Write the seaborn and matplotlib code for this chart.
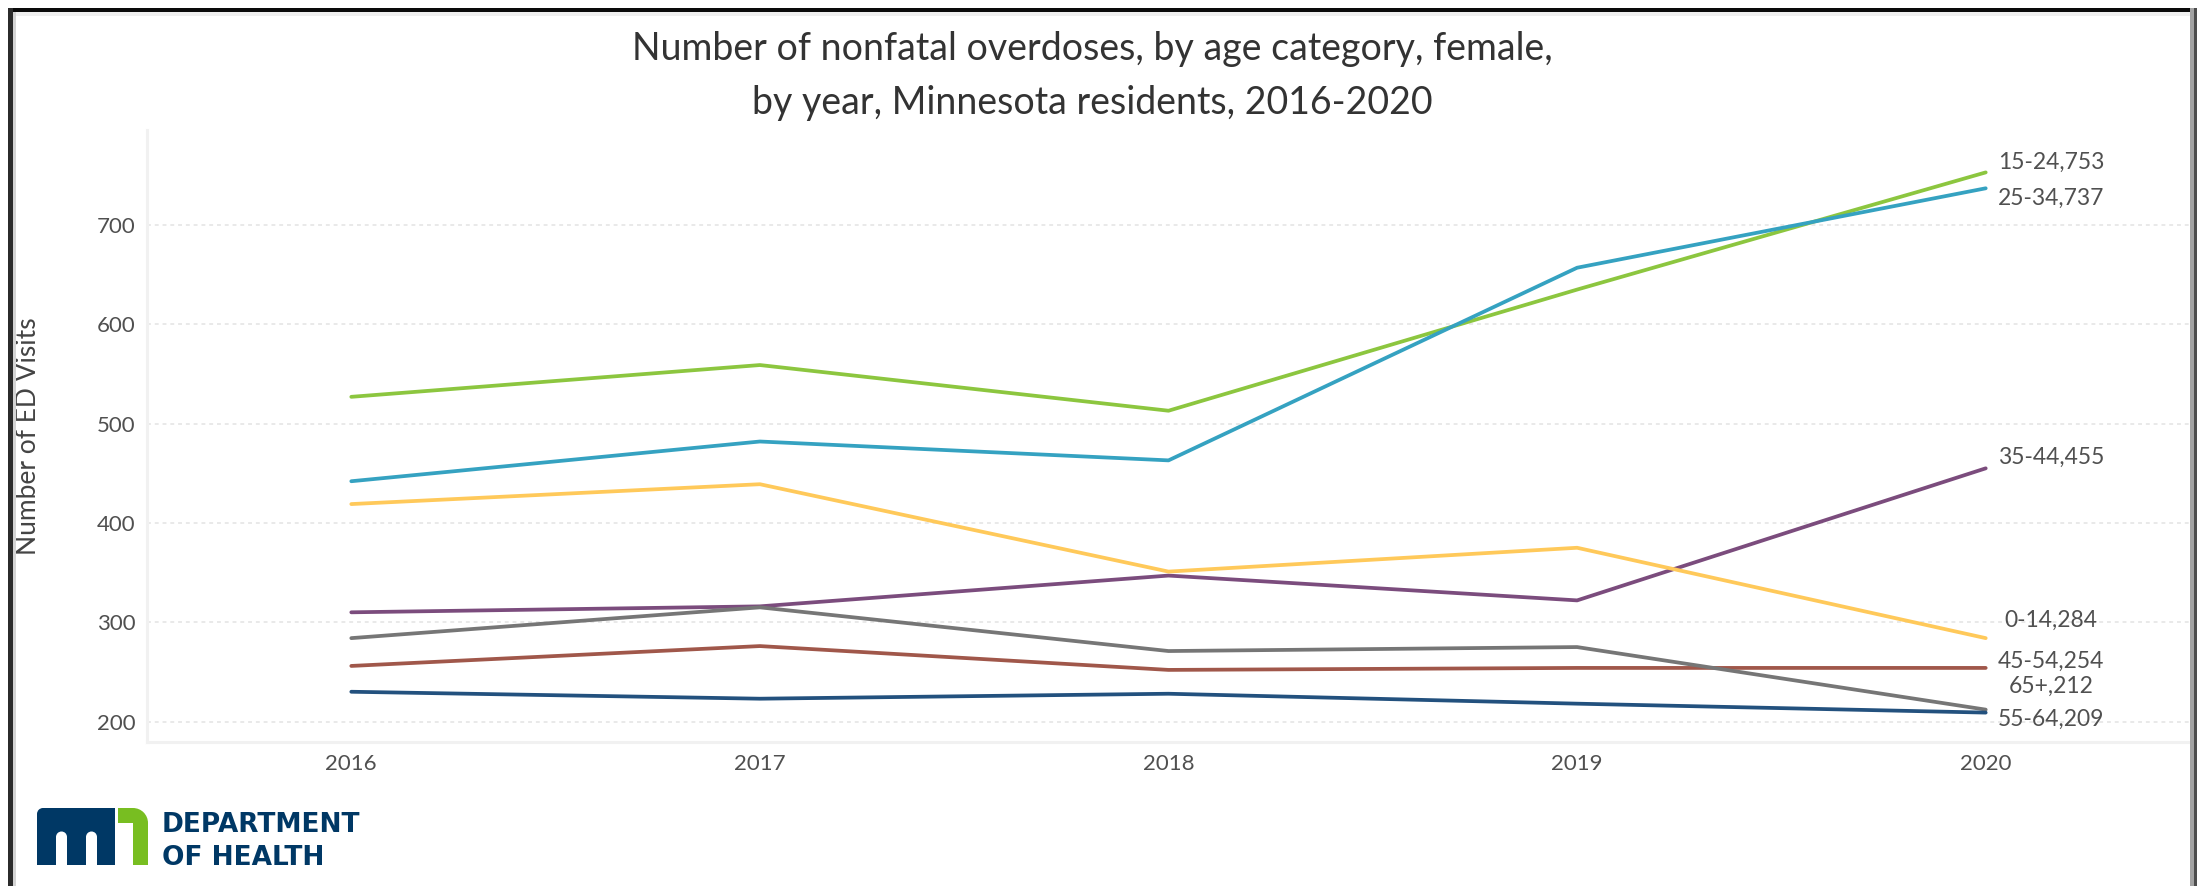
import matplotlib
matplotlib.use("Agg")
import matplotlib.pyplot as plt
from matplotlib.patches import Rectangle, Circle, Wedge
import numpy as np
import pandas as pd
import seaborn as sns

# ---- data -------------------------------------------------------------
years = [2016, 2017, 2018, 2019, 2020]
age_groups = ["15-24", "25-34", "35-44", "0-14", "45-54", "65+", "55-64"]
visits_15_24 = [527, 559, 513, 635, 753]
visits_25_34 = [442, 482, 463, 657, 737]
visits_35_44 = [310, 316, 347, 322, 455]
visits_0_14 = [419, 439, 351, 375, 284]
visits_45_54 = [256, 276, 252, 254, 254]
visits_65_plus = [284, 315, 271, 275, 212]
visits_55_64 = [230, 223, 228, 218, 209]
y_ticks = [200, 300, 400, 500, 600, 700]

series = {
    "15-24": visits_15_24,
    "25-34": visits_25_34,
    "35-44": visits_35_44,
    "0-14": visits_0_14,
    "45-54": visits_45_54,
    "65+": visits_65_plus,
    "55-64": visits_55_64,
}
df = pd.DataFrame(
    [(age, yr, v) for age in age_groups for yr, v in zip(years, series[age])],
    columns=["age", "year", "visits"],
)

# ---- styling ----------------------------------------------------------
palette = {
    "15-24": "#8cc63f",
    "25-34": "#35a2c1",
    "35-44": "#7b4c7d",
    "0-14": "#ffc95a",
    "45-54": "#a0574a",
    "65+": "#767676",
    "55-64": "#23517e",
}
# end-label vertical nudges (points) so the labels do not collide
label_nudge = {
    "15-24": 7, "25-34": -7, "35-44": 8, "0-14": 13,
    "45-54": 5, "65+": 17, "55-64": -4.5,
}

sns.set_theme(style="white")
plt.rcParams["font.family"] = ["Lato", "DejaVu Sans"]

W, H = 2200, 886
fig = plt.figure(figsize=(W / 100, H / 100), dpi=100)
fig.patch.set_facecolor("white")

ax_left, ax_right, ax_top, ax_bottom = 147, 2190, 130, 742
ax = fig.add_axes([ax_left / W, 1 - ax_bottom / H,
                   (ax_right - ax_left) / W, (ax_bottom - ax_top) / H])

sns.lineplot(data=df, x="year", y="visits", hue="age", hue_order=age_groups,
             palette=palette, linewidth=2.7, legend=False, ax=ax)

ax.set_xlim(2015.5, 2020.5)
ax.set_ylim(179.4, 795.7)
ax.set_xticks(years)
ax.set_xticklabels([str(y) for y in years])
ax.set_yticks(y_ticks)
ax.tick_params(axis="both", length=0, labelsize=16, colors="#505050")
ax.tick_params(axis="y", pad=8.5)
ax.tick_params(axis="x", pad=9)
ax.set_xlabel("")
ax.set_ylabel("Number of ED Visits", fontsize=19, color="#444444")
ax.yaxis.set_label_coords(-0.052, 0.5)

ax.grid(axis="y", color="#e9e9e9", linestyle=(0, (2, 2)), linewidth=1.4)
ax.grid(axis="x", visible=False)
for side in ("top", "right"):
    ax.spines[side].set_visible(False)
for side in ("left", "bottom"):
    ax.spines[side].set_color("#f1f1f1")
    ax.spines[side].set_linewidth(2.2)

# end-of-line labels "age,value"
for age in age_groups:
    v = series[age][-1]
    ax.annotate(f"{age},{v}", xy=(years[-1], v), xytext=(47, label_nudge[age]),
                textcoords="offset points", ha="center", va="center",
                fontsize=16.5, color="#505050", annotation_clip=False)

# ---- title ------------------------------------------------------------
fig.text(1092 / W, 1 - 49 / H, "Number of nonfatal overdoses, by age category, female,",
         ha="center", va="center", fontsize=27, color="#333333")
fig.text(1092 / W, 1 - 103 / H, "by year, Minnesota residents, 2016-2020",
         ha="center", va="center", fontsize=27, color="#333333")

# ---- frame ------------------------------------------------------------
def px_rect(x0, y0, x1, y1, color):
    fig.add_artist(Rectangle((x0 / W, 1 - y1 / H), (x1 - x0) / W, (y1 - y0) / H,
                             transform=fig.transFigure, color=color, lw=0, zorder=10))

px_rect(8, 12, 2194, 16, "#efefef")
px_rect(8, 8, 2197, 12, "#0a0a0a")
px_rect(13, 12, 16, 886, "#d4d4d4")
px_rect(8, 8, 13, 886, "#2b2b2b")
px_rect(2190, 8, 2194, 886, "#a3a3a3")
px_rect(2194, 8, 2197, 886, "#4d4d4d")

# ---- department logo --------------------------------------------------
navy, leaf = "#003865", "#78be21"
lg = fig.add_axes([30 / W, 1 - 872 / H, 130 / W, 70 / H])
lg.set_xlim(30, 160)
lg.set_ylim(872, 802)
lg.axis("off")
lg.add_patch(Rectangle((37, 814), 78, 51, color=navy, lw=0))
lg.add_patch(Rectangle((43, 808), 72, 7, color=navy, lw=0))
lg.add_patch(Wedge((43, 814), 6, 180, 270, color=navy, lw=0))
for gx in (56, 86):
    lg.add_patch(Rectangle((gx, 837), 11, 29, color="white", lw=0))
    lg.add_patch(Circle((gx + 5.5, 837), 5.5, color="white", lw=0))
lg.add_patch(Rectangle((118, 808), 15, 15, color=leaf, lw=0))
lg.add_patch(Wedge((133, 823), 15, 270, 360, color=leaf, lw=0))
lg.add_patch(Rectangle((133, 823), 15, 42, color=leaf, lw=0))

fig.text(162 / W, 1 - 832 / H, "DEPARTMENT", ha="left", va="baseline",
         fontsize=19, fontweight="bold", color=navy, family="DejaVu Sans")
fig.text(162 / W, 1 - 865 / H, "OF HEALTH", ha="left", va="baseline",
         fontsize=19, fontweight="bold", color=navy, family="DejaVu Sans")

fig.savefig("out.png", dpi=100, facecolor="white")
